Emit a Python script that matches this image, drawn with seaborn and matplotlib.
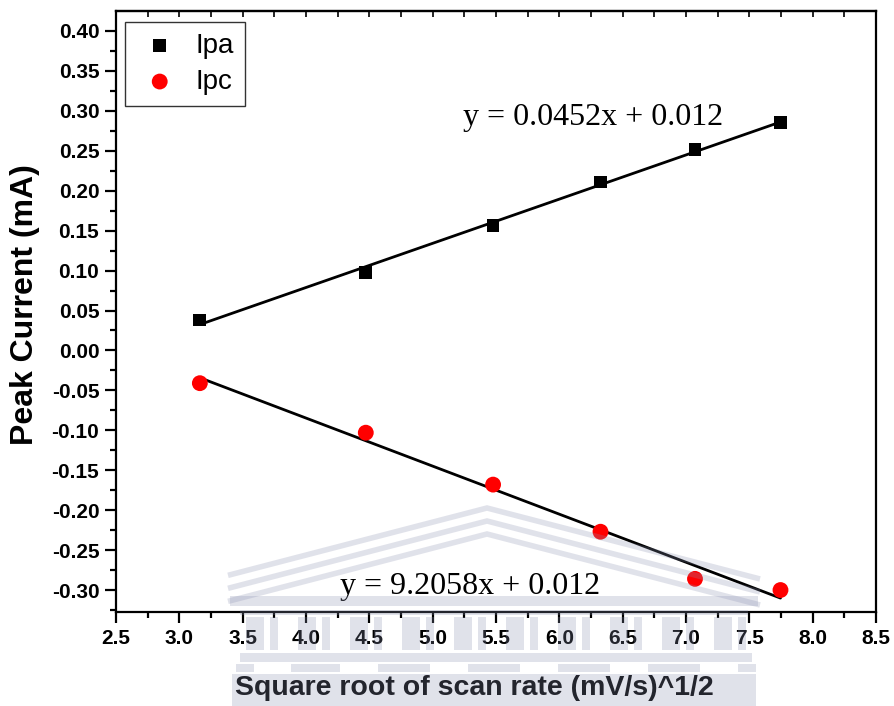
import numpy as np
import pandas as pd
import matplotlib
matplotlib.use("Agg")
import matplotlib.pyplot as plt
from matplotlib.patches import Rectangle
from matplotlib.lines import Line2D
import seaborn as sns

# Square root of scan rate, (mV/s)^1/2
scan_rate_sqrt = [3.162, 4.472, 5.477, 6.325, 7.071, 7.746]
# Anodic and cathodic peak currents, mA
ipa = [0.038, 0.098, 0.156, 0.211, 0.252, 0.285]
ipc = [-0.041, -0.103, -0.168, -0.227, -0.286, -0.300]

eq_ipa = "y = 0.0452x + 0.012"
eq_ipc = "y = 9.2058x + 0.012"

x_ticks = [2.5, 3.0, 3.5, 4.0, 4.5, 5.0, 5.5, 6.0, 6.5, 7.0, 7.5, 8.0, 8.5]
y_ticks = [-0.30, -0.25, -0.20, -0.15, -0.10, -0.05, 0.00, 0.05, 0.10,
           0.15, 0.20, 0.25, 0.30, 0.35, 0.40]

df = pd.DataFrame({"x": scan_rate_sqrt, "Ipa": ipa, "Ipc": ipc})

sns.set_theme(style="white")
plt.rcParams["font.family"] = ["Liberation Sans", "DejaVu Sans"]
plt.rcParams.update({"text.color": "black", "axes.labelcolor": "black",
                     "xtick.color": "black", "ytick.color": "black"})

W, H = 894, 706
fig = plt.figure(figsize=(W / 100, H / 100), dpi=100)
ax = fig.add_axes([116 / W, 1 - 612 / H, (876 - 116) / W, (612 - 11) / H])

# linear fits
sns.regplot(data=df, x="x", y="Ipa", ax=ax, ci=None, scatter=False,
            color="black", line_kws={"lw": 2.0, "zorder": 2})
sns.regplot(data=df, x="x", y="Ipc", ax=ax, ci=None, scatter=False,
            color="black", line_kws={"lw": 2.0, "zorder": 2})

# measured peaks
sns.scatterplot(data=df, x="x", y="Ipa", ax=ax, marker="s", s=85,
                color="black", edgecolor="none", label="Ipa", zorder=3)
sns.scatterplot(data=df, x="x", y="Ipc", ax=ax, marker="o", s=130,
                color="#ff0000", edgecolor="none", label="Ipc", zorder=3)

ax.set_xlim(2.5, 8.5)
ax.set_ylim(-0.3275, 0.425)
ax.set_xticks(x_ticks)
ax.set_xticklabels([f"{v:.1f}" for v in x_ticks])
ax.set_yticks(y_ticks)
ax.set_yticklabels([f"{v:.2f}" for v in y_ticks])
ax.set_xticks(np.arange(2.75, 8.5, 0.5), minor=True)
ax.set_yticks(np.arange(-0.325, 0.42, 0.05), minor=True)

for sp in ax.spines.values():
    sp.set_visible(True)
    sp.set_color("black")
    sp.set_linewidth(1.6)

ax.tick_params(axis="both", which="major", direction="out", length=8,
               width=1.6, color="black", labelcolor="black", labelsize=15,
               pad=4, bottom=True, left=True)
ax.tick_params(axis="both", which="minor", direction="out", length=4.5,
               width=1.6, color="black", bottom=True, left=True)
for lab in ax.get_xticklabels() + ax.get_yticklabels():
    lab.set_fontweight("bold")

top = ax.secondary_xaxis("top")
top.set_xticks(np.arange(2.5, 8.51, 0.25))
top.tick_params(direction="in", length=4, width=1.2, labeltop=False)
top.spines["top"].set_linewidth(1.6)

ax.set_xlabel("Square root of scan rate (mV/s)^1/2", fontsize=20.5,
              fontweight="bold", color="black")
ax.xaxis.set_label_coords(0.472, -0.105)
ax.set_ylabel("Peak Current (mA)", fontsize=23, fontweight="bold",
              color="black")
ax.yaxis.set_label_coords(-0.100, 0.512)

ax.text(5.24, 0.292, eq_ipa, fontsize=23, family="Liberation Serif",
        va="center", ha="left", zorder=4, color="black")
ax.text(4.27, -0.295, eq_ipc, fontsize=23, family="Liberation Serif",
        va="center", ha="left", zorder=4, color="black")

leg = ax.legend(loc="upper left", bbox_to_anchor=(9 / 760, 1 - 11 / 601),
                borderaxespad=0, fontsize=20, frameon=True, fancybox=False,
                edgecolor="black", handletextpad=0.45, borderpad=0.4,
                labelspacing=0.35, handlelength=1.7, markerscale=1.0)
leg.get_frame().set_linewidth(1.0)
for t in leg.get_texts():
    t.set_color("black")

# faint building watermark over the lower part of the figure
wm_color = "#8a90b0"
wm_alpha = 0.26


def fx(px):
    return px / W


def fy(py):
    return 1 - py / H


for peak_y in (508, 521, 534):
    drop = 0.26
    xs = [228, 487, 760]
    ys = [peak_y + drop * (487 - 228), peak_y, peak_y + drop * (760 - 487)]
    fig.add_artist(Line2D([fx(v) for v in xs], [fy(v) for v in ys],
                          transform=fig.transFigure, color=wm_color,
                          alpha=wm_alpha, lw=4.0, solid_joinstyle="miter",
                          solid_capstyle="butt", zorder=10))

rects = [(230, 596, 758, 606), (240, 610, 748, 615)]
for cx in range(246, 740, 52):
    rects.append((cx, 617, cx + 18, 650))
    rects.append((cx + 24, 617, cx + 32, 650))
rects += [(240, 653, 752, 662), (236, 664, 254, 672), (291, 664, 340, 672),
          (378, 664, 430, 672), (468, 664, 520, 672), (558, 664, 610, 672),
          (648, 664, 700, 672), (738, 664, 756, 672), (232, 674, 756, 706)]
for x0, y0, x1, y1 in rects:
    fig.add_artist(Rectangle((fx(x0), fy(y1)), fx(x1) - fx(x0),
                             fy(y0) - fy(y1), transform=fig.transFigure,
                             facecolor=wm_color, edgecolor="none",
                             alpha=wm_alpha, zorder=10))

fig.savefig("out.png", dpi=100)
